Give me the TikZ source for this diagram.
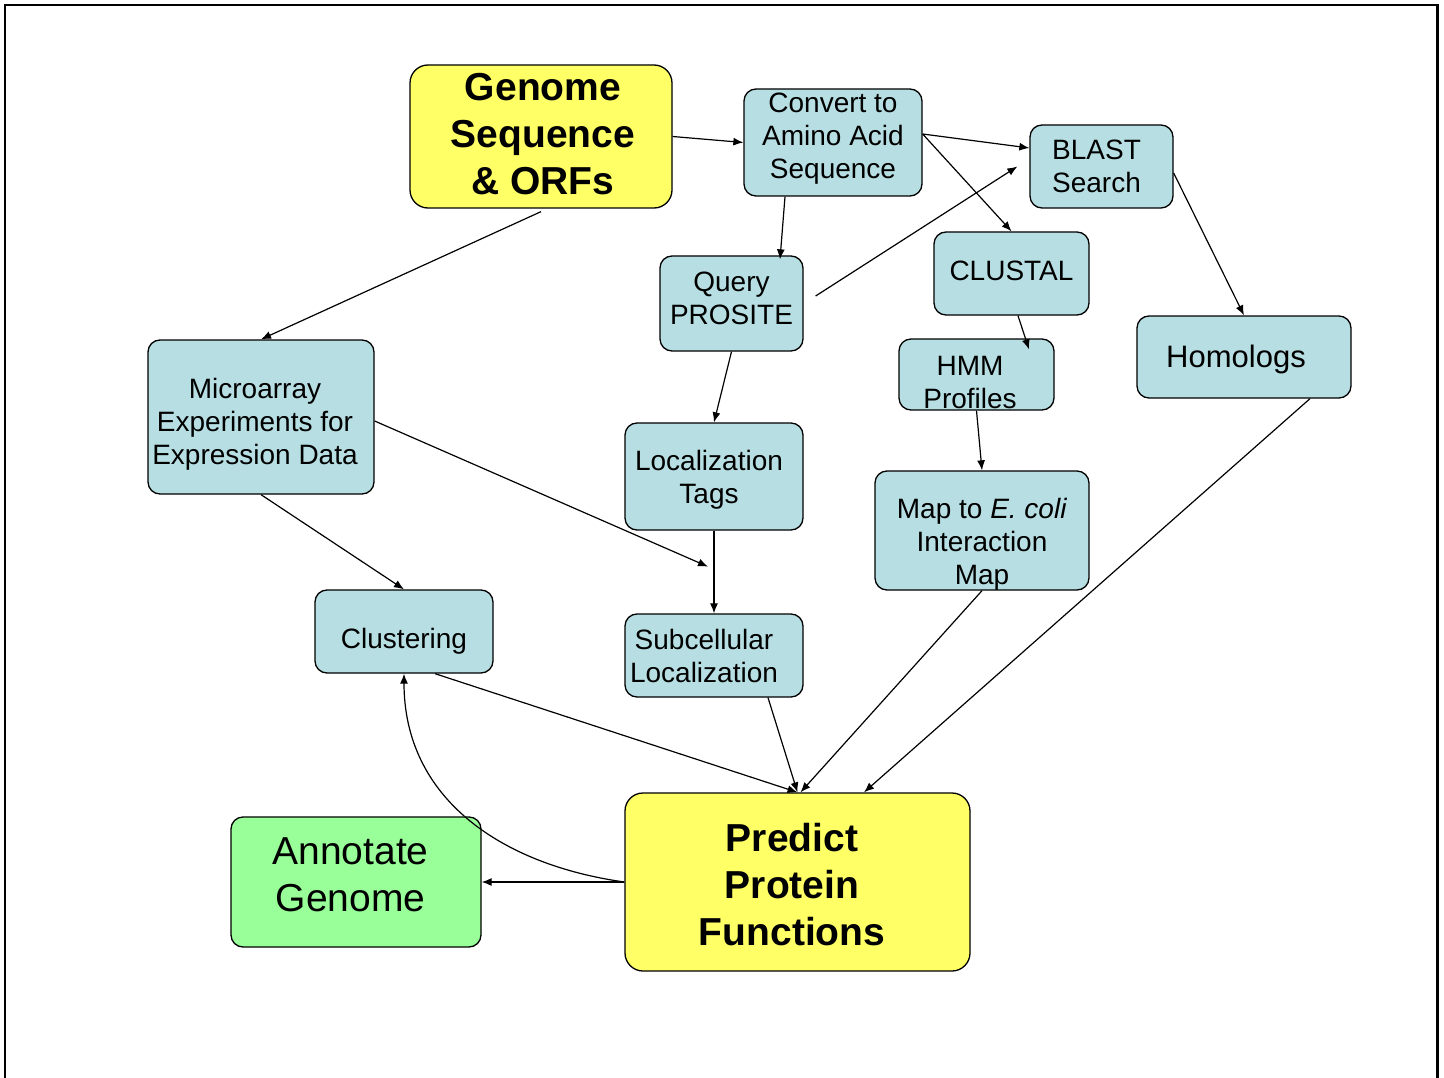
\documentclass[tikz,border=0pt]{standalone}
\usepackage{fontspec}
\setmainfont{Liberation Sans}
\usetikzlibrary{arrows.meta,calc}
\definecolor{boxblue}{RGB}{183,223,227}
\definecolor{boxyellow}{RGB}{255,255,102}
\definecolor{boxgreen}{RGB}{153,255,153}
\newcommand\tx[2][-4pt]{\raisebox{#1}[\height][\depth]{\begin{tabular}{@{}c@{}}#2\end{tabular}}}
\begin{document}
\begin{tikzpicture}[x=1pt,y=-1pt,
  box/.style={draw=black, line width=1.3pt, rounded corners=12pt, fill=boxblue, inner sep=0pt, font=\fontsize{28}{33}\selectfont},
  big/.style={box, rounded corners=18pt, fill=boxyellow, font=\fontsize{39}{47}\selectfont\bfseries},
  arr/.style={line width=1.2pt, -{Latex[length=10pt,width=8pt]}},
  frame/.style={line width=2.5pt, line cap=rect}
]
\useasboundingbox (0,0) rectangle (1444,1078);
\draw[frame] (5,1080) -- (5,5) -- (1437,5);
\draw[line width=3.5pt] (1437.5,4) -- (1437.5,1080);

\node[big, minimum width=262pt, minimum height=143pt] (genome) at (541,136.5) {\hspace*{4pt}\tx[-1.5pt]{Genome\\Sequence\\\& ORFs}};
\node[box, minimum width=178pt, minimum height=107pt] (convert) at (833,142.5) {\tx[4pt]{Convert to\\Amino Acid\\Sequence}};
\node[box, minimum width=143pt, minimum height=83pt] (blast) at (1101.5,166.5) {\hspace*{-10pt}\tx[-3pt]{BLAST\\Search}};
\node[box, minimum width=155pt, minimum height=83pt] (clustal) at (1011.5,273.5) {\tx[0pt]{CLUSTAL}};
\node[box, minimum width=143pt, minimum height=95pt] (query) at (731.5,303.5) {\tx[2pt]{Query\\PROSITE}};
\node[box, minimum width=155pt, minimum height=71pt] (hmm) at (976.5,374.5) {\hspace*{-13pt}\tx[-10.5pt]{HMM\\Profiles}};
\node[box, minimum width=214pt, minimum height=82pt, font=\fontsize{31}{37}\selectfont] (homologs) at (1244,357) {\hspace*{-16pt}\tx[-3pt]{Homologs}};
\node[box, minimum width=226pt, minimum height=154pt] (micro) at (261,417) {\hspace*{-12pt}\tx[-8pt]{Microarray\\Experiments for\\Expression Data}};
\node[box, minimum width=178pt, minimum height=107pt] (loc) at (714,476.5) {\hspace*{-10pt}\tx{Localization\\Tags}};
\node[box, minimum width=214pt, minimum height=119pt] (map) at (982,530.5) {\tx[-14pt]{Map to \textit{E. coli}\\Interaction\\Map}};
\node[box, minimum width=178pt, minimum height=83pt] (clust) at (404,631.5) {\tx[-10pt]{Clustering}};
\node[box, minimum width=178pt, minimum height=83pt] (subcell) at (714,655.5) {\hspace*{-20pt}\tx[-3.5pt]{Subcellular\\Localization}};
\node[box, fill=boxgreen, minimum width=250pt, minimum height=130pt, font=\fontsize{39}{47}\selectfont] (annot) at (356,882) {\hspace*{-11pt}\tx[3.5pt]{Annotate\\Genome}};
\node[big, minimum width=345pt, minimum height=178pt] (predict) at (797.5,882) {\hspace*{-11pt}\tx[-7.5pt]{Predict\\Protein\\Functions}};

\draw[arr] (genome.east) -- (convert.west);
\draw[arr] ([yshift=8.5pt]convert.east) -- ([yshift=18.5pt]blast.west);
\draw[arr] ([yshift=8.5pt]convert.east) -- (clustal.north);
\draw[arr] ([xshift=-48pt]convert.south) -- ([shift={(48.5pt,-4pt)}]query.north);
\draw[arr] ([shift={(12pt,7.5pt)}]query.east) -- ([xshift=-12pt]blast.west);
\draw[arr] ([yshift=-6.5pt]blast.east) -- (homologs.north);
\draw[arr] ([yshift=-3pt]genome.south) -- (micro.north);
\draw[arr] (query.south) -- (loc.north);
\draw[arr] ([xshift=6.5pt]clustal.south) -- ([shift={(52.5pt,-11pt)}]hmm.north);
\draw[arr] (hmm.south) -- (map.north);
\draw[arr] ([yshift=-4pt]micro.east) -- ([shift={(-6pt,-36pt)}]loc.south);
\draw[arr] (loc.south) -- (subcell.north);
\draw[arr] (micro.south) -- (clust.north);
\draw[arr] ([xshift=31pt]clust.south) -- (predict.north);
\draw[arr] ([xshift=54pt]subcell.south) -- (predict.north);
\draw[arr] (map.south) -- ([xshift=3pt]predict.north);
\draw[arr] ([xshift=66pt]homologs.south) -- ([xshift=66.5pt]predict.north);
\draw[arr] (predict.west) -- (annot.east);
\draw[arr] (predict.west) to[out=172,in=-90,looseness=1.05] (clust.south);
\end{tikzpicture}
\end{document}
